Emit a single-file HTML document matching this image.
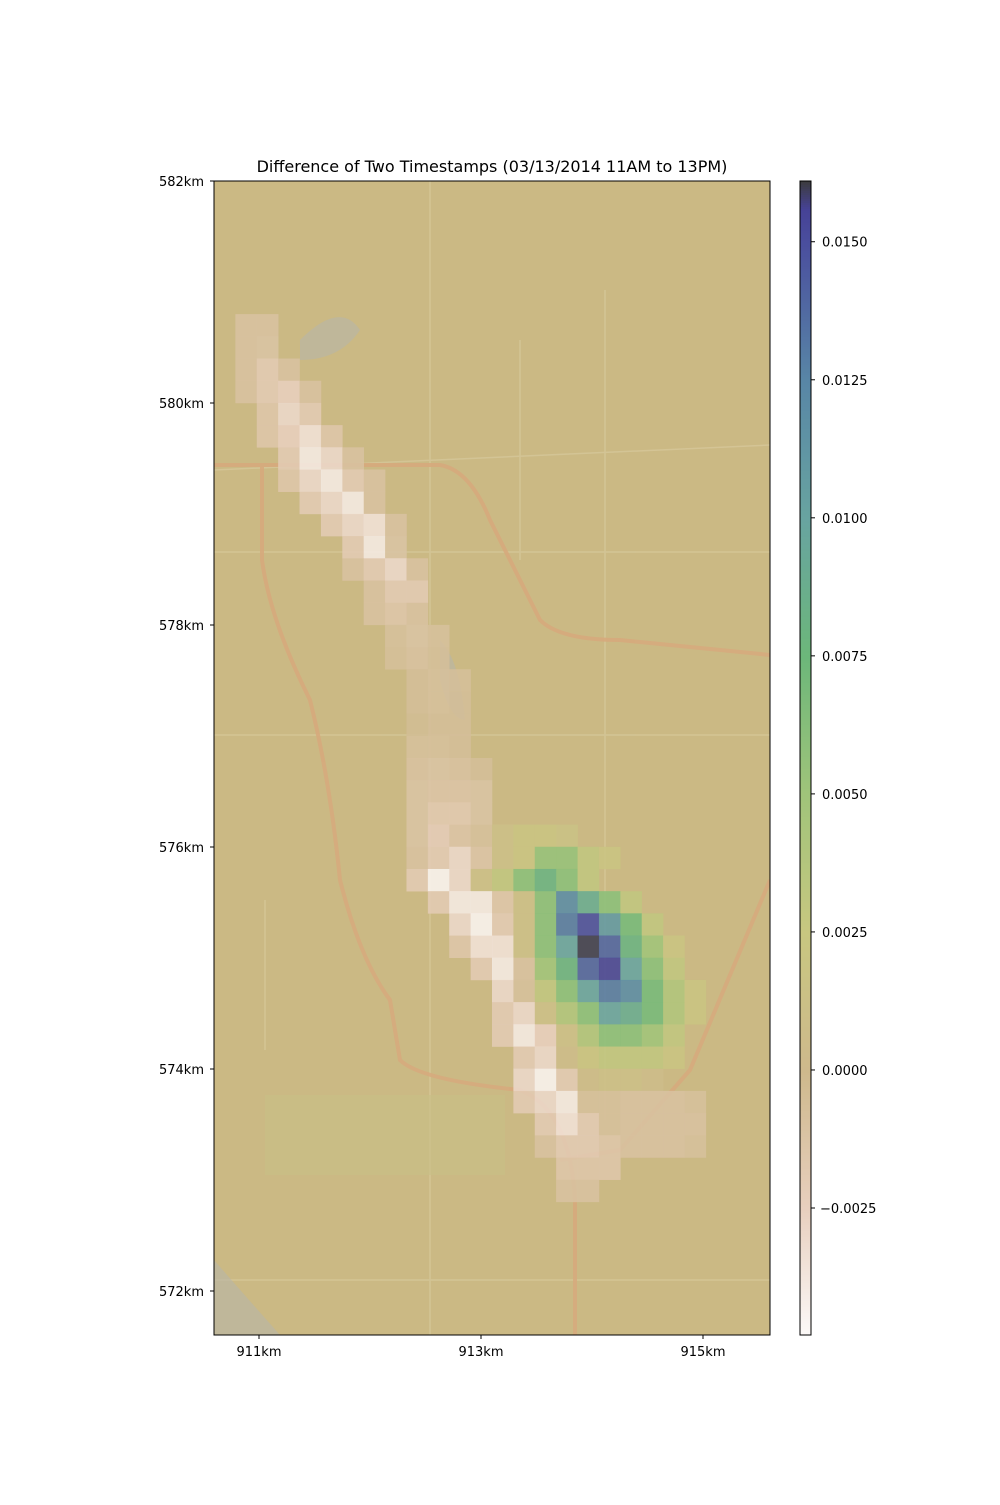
<!DOCTYPE html>
<html><head><meta charset="utf-8">
<style>
body{margin:0;background:#fff;}
svg text{font-family:"DejaVu Sans","Liberation Sans",sans-serif;}
</style></head>
<body>
<svg id="chart" width="1000" height="1500" viewBox="0 0 1000 1500" xmlns="http://www.w3.org/2000/svg">
<rect width="1000" height="1500" fill="#fff"/>
<text x="492" y="172" font-size="16" text-anchor="middle" fill="#000">Difference of Two Timestamps (03/13/2014 11AM to 13PM)</text>
<defs><clipPath id="plotclip"><rect x="214" y="181" width="556" height="1154"/></clipPath></defs>
<g clip-path="url(#plotclip)">
<rect x="214" y="181" width="556" height="1154" fill="#cbb984"/>
<g fill="none" stroke="#d6c79a" stroke-width="1.5" opacity="0.8">
<path d="M214 735 L770 735"/><path d="M214 552 L770 552"/><path d="M430 181 L430 1335"/><path d="M605 290 L605 1120"/><path d="M520 340 L520 560"/><path d="M214 470 L770 445"/><path d="M214 1280 L770 1280"/><path d="M265 900 L265 1050"/>
</g>
<g fill="none" stroke="#d7a97c" stroke-width="4" opacity="0.85">
<path d="M214 465 L440 465 Q470 470 490 520 L540 620 Q560 640 620 640 L770 655"/>
<path d="M262 465 L262 560 Q270 620 310 700 Q330 780 340 880 Q360 960 390 1000 L400 1060 Q420 1080 520 1090 Q570 1110 575 1200 L575 1335"/>
<path d="M560 1160 L620 1150 L690 1070 L770 880"/>
</g>
<g fill="#b8b6a8" opacity="0.6">
<path d="M300 340 Q340 300 360 330 Q340 360 300 360Z"/><path d="M440 640 Q460 660 465 720 Q450 720 440 680Z"/><path d="M214 1260 Q240 1290 280 1335 L214 1335Z"/>
</g>
<rect x="265" y="1095" width="240" height="80" fill="#c8bf86" opacity="0.6"/>
<g id="cells"></g>
</g>
<rect x="214" y="181" width="556" height="1154" fill="none" stroke="#000" stroke-width="1"/>
<g id="xaxis"></g>
<g id="yaxis"></g>
<g id="cbar"></g>
</svg>
<script>
// grid: 26 columns x 52 rows; each row entry: [row, startCol, values...]
const rowIndex = [6,7,8,9,10,11,12,13,14,15,16,17,18,19,20,21,22,23,24,25,26,27,28,29,30,31,32,33,34,35,36,37,38,39,40,41,42,43,44,45];
const rowStart = [1,1,1,1,2,2,3,3,4,5,6,6,7,7,8,8,9,9,9,9,9,9,9,9,9,9,10,11,11,12,13,13,13,14,14,14,15,15,16,16];
const rowValues = [
 [-0.001,-0.001],
 [-0.001,-0.0012],
 [-0.001,-0.002,-0.001],
 [-0.001,-0.002,-0.0025,-0.001],
 [-0.0015,-0.003,-0.002],
 [-0.0015,-0.0025,-0.0035,-0.0015],
 [-0.002,-0.004,-0.003,-0.001],
 [-0.0015,-0.003,-0.004,-0.002,-0.001],
 [-0.002,-0.003,-0.004,-0.001],
 [-0.002,-0.003,-0.0035,-0.001],
 [-0.002,-0.004,-0.0012],
 [-0.001,-0.002,-0.003,-0.001],
 [-0.001,-0.002,-0.002],
 [-0.001,-0.0015,-0.001],
 [-0.0008,-0.0012,-0.0008],
 [-0.0007,-0.001,-0.0007],
 [-0.0006,-0.0008,-0.0007],
 [-0.0006,-0.0008,-0.0006],
 [-0.0004,-0.0006,-0.0006],
 [-0.0008,-0.0008,-0.0006],
 [-0.001,-0.0012,-0.001,-0.0006],
 [-0.0012,-0.0013,-0.0013,-0.0012],
 [-0.0012,-0.0018,-0.0018,-0.0012],
 [-0.0012,-0.0022,-0.0013,-0.0008,0.001,0.002,0.002,0.0015],
 [-0.001,-0.002,-0.003,-0.0013,0.001,0.002,0.0055,0.0055,0.003,0.002],
 [-0.002,-0.0045,-0.003,0.001,0.003,0.006,0.008,0.006,0.003],
 [-0.002,-0.004,-0.004,-0.0015,0.001,0.006,0.012,0.009,0.006,0.003],
 [-0.003,-0.0045,-0.002,0.001,0.006,0.013,0.015,0.011,0.007,0.003],
 [-0.0015,-0.0035,-0.0035,0.001,0.006,0.010,0.016,0.014,0.008,0.005,0.002],
 [-0.002,-0.004,-0.001,0.005,0.008,0.014,0.0155,0.010,0.006,0.003],
 [-0.003,-0.0008,0.003,0.006,0.010,0.013,0.012,0.007,0.004,0.002],
 [-0.002,-0.003,0.001,0.004,0.006,0.010,0.009,0.007,0.004,0.002],
 [-0.002,-0.004,-0.0025,0.001,0.004,0.006,0.006,0.005,0.003],
 [-0.002,-0.003,0.0005,0.002,0.003,0.003,0.003,0.002],
 [-0.003,-0.0045,-0.002,0.0005,0.001,0.001,0.0005],
 [-0.002,-0.003,-0.004,-0.0008,-0.0008,-0.001,-0.001,-0.001,-0.0008],
 [-0.002,-0.0035,-0.002,-0.0008,-0.001,-0.001,-0.001,-0.001],
 [-0.001,-0.002,-0.002,-0.0015,-0.001,-0.001,-0.001,-0.0008],
 [-0.0015,-0.0015,-0.0015],
 [-0.001,-0.001]
];
const xTicks = [911, 913, 915];
const xTickLabels = ["911km","913km","915km"];
const yTicks = [582, 580, 578, 576, 574, 572];
const yTickLabels = ["582km","580km","578km","576km","574km","572km"];
const cbTicks = [0.015, 0.0125, 0.01, 0.0075, 0.005, 0.0025, 0, -0.0025];
const cbTickLabels = ["0.0150","0.0125","0.0100","0.0075","0.0050","0.0025","0.0000","\u22120.0025"];

const NS="http://www.w3.org/2000/svg";
const X0=214, Y0=181, CW=556/26, RH=1154/52;
const xs = km => 259 + (km-911)*111;
const ys = km => 181 + (582-km)*111;
const vmin=-0.0048, vmax=0.0161;
const cy = v => 1335 - (v-vmin)/(vmax-vmin)*1154;
const stops=[[-0.0048,[252,249,248]],[-0.0025,[232,207,190]],[0,[206,185,140]],[0.0025,[200,199,128]],[0.005,[160,196,122]],[0.0075,[108,183,122]],[0.01,[104,164,160]],[0.0125,[88,134,166]],[0.015,[74,78,158]],[0.0156,[70,66,150]],[0.0161,[60,60,64]]];
function cmap(v){
  if(v<=stops[0][0]) return rgb(stops[0][1]);
  for(let i=1;i<stops.length;i++){
    if(v<=stops[i][0]){const a=stops[i-1],b=stops[i];const t=(v-a[0])/(b[0]-a[0]);
      return rgb(a[1].map((c,k)=>c+(b[1][k]-c)*t));}
  }
  return rgb(stops[stops.length-1][1]);
}
function rgb(c){return `rgb(${c.map(Math.round).join(',')})`;}
function mk(tag,attrs,parent){const e=document.createElementNS(NS,tag);for(const k in attrs)e.setAttribute(k,attrs[k]);parent.appendChild(e);return e;}

const cells=document.getElementById('cells');
rowIndex.forEach((r,i)=>{
  rowValues[i].forEach((v,j)=>{
    const c=rowStart[i]+j;
    const e=mk('rect',{x:X0+c*CW,y:Y0+r*RH,width:CW+0.3,height:RH+0.3,fill:cmap(v),opacity:0.88},cells);
    
    
  });
});

const xa=document.getElementById('xaxis');
xTicks.forEach((t,i)=>{
  const x=xs(t);
  const l=mk('line',{x1:x,x2:x,y1:1335,y2:1339,stroke:'#000'},xa);
  
  
  const tx=mk('text',{x:x,y:1356,'font-size':13,'text-anchor':'middle'},xa);
  tx.textContent=xTickLabels[i];
  
  
});
const ya=document.getElementById('yaxis');
yTicks.forEach((t,i)=>{
  const y=ys(t);
  const l=mk('line',{x1:210,x2:214,y1:y,y2:y,stroke:'#000'},ya);
  
  
  const tx=mk('text',{x:204,y:y+5,'font-size':13,'text-anchor':'end'},ya);
  tx.textContent=yTickLabels[i];
  
  
});
const cb=document.getElementById('cbar');
for(let y=181;y<1335;y+=2){
  const v=vmax-(y-181)/1154*(vmax-vmin);
  const r=mk('rect',{x:800,y:y,width:11,height:2.2,fill:cmap(v)},cb);
  
  
}
const fr=mk('rect',{x:800,y:181,width:11,height:1154,fill:'none',stroke:'#000'},cb);


cbTicks.forEach((t,i)=>{
  const y=cy(t);
  const l=mk('line',{x1:811,x2:815,y1:y,y2:y,stroke:'#000'},cb);
  
  
  const tx=mk('text',{x:t<0?820:822,y:y+5,'font-size':13},cb);
  tx.textContent=cbTickLabels[i];
  
  
});
</script>
</body></html>
